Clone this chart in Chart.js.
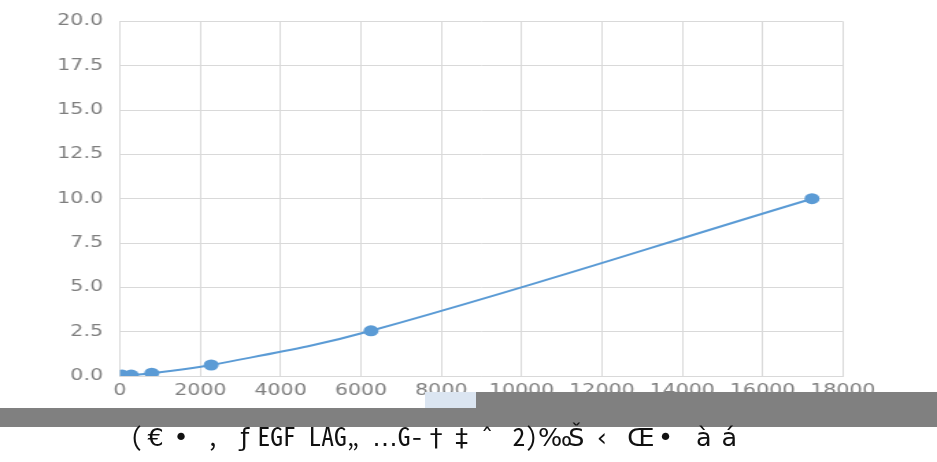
<!DOCTYPE html>
<html lang="en-US">
<head>
<meta charset="utf-8">
<title>Standard curve</title>
<script src="https://cdn.jsdelivr.net/npm/chart.js@4.4.1/dist/chart.umd.min.js"></script>
<style>
	html, body { margin: 0; padding: 0; background: #fff; }
	#wrap { position: relative; width: 937px; height: 462px; overflow: hidden; }
	#chart { position: absolute; left: 0; top: 0; }
	.bar { position: absolute; background: #808080; }
	#patch { position: absolute; left: 425px; top: 392px; width: 51px; height: 16px; background: #dbe5f1; }
	#caption {
		position: absolute; left: 130px; top: 422px; white-space: nowrap;
		font-family: "Noto Sans Mono CJK JP", "Noto Sans CJK JP", monospace;
		font-size: 25.5px; line-height: 25.5px; color: #111;
	}
	#caption span { display: inline-block; text-align: center; width: 0.5em; }
	#caption span.w { width: 1em; font-family: "DejaVu Sans", sans-serif; }
</style>
</head>
<body>
<div id="wrap">
	<!-- the picture is stretched sideways, so the canvas is drawn narrow and widened -->
	<canvas id="chart" width="684" height="462" style="width:937px;height:462px"></canvas>
	<div class="bar" style="left:0;top:408px;width:476px;height:19px"></div>
	<div id="patch"></div>
	<div class="bar" style="left:476px;top:392px;width:461px;height:35px"></div>
	<div id="caption"></div>
</div>
<script>
	// readings
	const xValues = [50, 280, 790, 2270, 6250, 17230];
	const yValues = [0.05, 0.05, 0.16, 0.62, 2.55, 10.0];
	const xTicks = [0, 2000, 4000, 6000, 8000, 10000, 12000, 14000, 16000, 18000];
	const yTicks = [0, 2.5, 5, 7.5, 10, 12.5, 15, 17.5, 20];
	const captionText = '(€• , ƒEGF LAG„ …G-†‡ˆ 2)‰Š‹ Œ• àá';
	const wideChars = '€•ƒ…†‡ˆ‰Š‹Œàá';

	const BLUE = '#5b9bd5';
	const GRID = '#d9d9d9';
	const TICK = '#7f7f7f';
	const FONT = { family: "'DejaVu Sans'", size: 15 };

	// caption: fixed cells, half width for ascii, full width for the rest
	const cap = document.getElementById('caption');
	for (const ch of captionText) {
		const s = document.createElement('span');
		s.textContent = ch === ' ' ? '\u00a0' : ch;
		if (wideChars.includes(ch)) s.className = 'w';
		cap.appendChild(s);
	}

	const points = xValues.map((x, i) => ({ x: x, y: yValues[i] }));

	new Chart(document.getElementById('chart'), {
		type: 'scatter',
		data: {
			datasets: [{
				data: points,
				showLine: true,
				borderColor: BLUE,
				backgroundColor: BLUE,
				borderWidth: 2,
				tension: 0.4,
				pointRadius: 5.5,
				pointBorderWidth: 0
			}]
		},
		options: {
			responsive: false,
			animation: false,
			events: [],
			layout: { autoPadding: false, padding: { left: 0, right: 68.7, top: 16, bottom: 56 } },
			plugins: { legend: { display: false }, tooltip: { enabled: false } },
			scales: {
				x: {
					type: 'linear',
					min: xTicks[0],
					max: xTicks[xTicks.length - 1],
					afterBuildTicks: s => { s.ticks = xTicks.map(v => ({ value: v })); },
					afterFit: s => { s.height = 30; },
					grid: { color: GRID, drawTicks: false },
					border: { color: GRID },
					ticks: { color: TICK, padding: 6, maxRotation: 0, font: FONT, callback: v => String(v) }
				},
				y: {
					min: yTicks[0],
					max: yTicks[yTicks.length - 1],
					afterBuildTicks: s => { s.ticks = yTicks.map(v => ({ value: v })); },
					afterFit: s => { s.width = 87.6; },
					grid: { color: GRID, drawTicks: false },
					border: { color: GRID },
					ticks: { color: TICK, padding: 12.4, font: FONT, callback: v => v.toFixed(1) }
				}
			}
		}
	});
</script>
</body>
</html>
